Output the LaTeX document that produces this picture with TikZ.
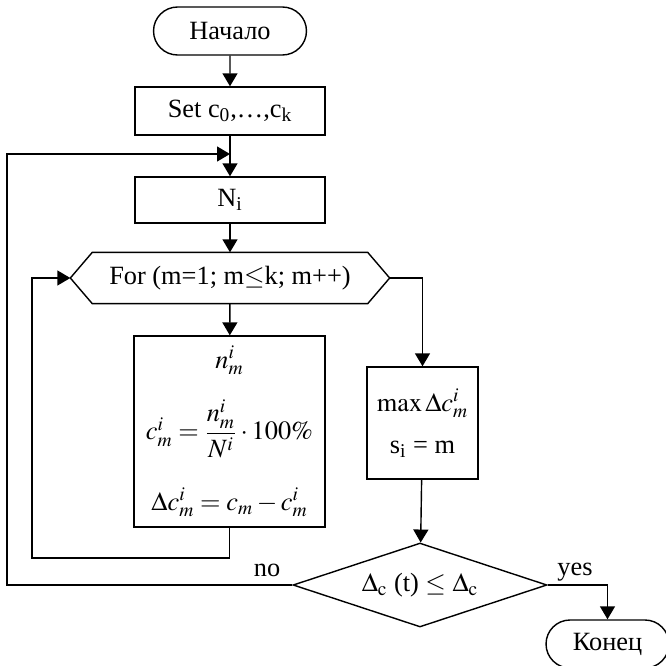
\documentclass[tikz,border=0pt]{standalone}
\usepackage{mathptmx}
\usepackage{amsmath}
\usepackage[no-math]{fontspec}
\setmainfont{Liberation Serif}
\usetikzlibrary{arrows.meta, calc, shapes.misc, shapes.geometric}

\begin{document}
\begin{tikzpicture}[x=0.02cm, y=-0.02cm, >={Triangle[length=0.26cm, width=0.3cm]}, line width=0.8pt,
  font=\fontsize{15}{18}\selectfont,
  term/.style={draw, rounded rectangle, minimum height=0.96cm, inner sep=2pt},
  box/.style={draw, rectangle, inner sep=2pt},
  cond/.style={draw, diamond, aspect=3, inner sep=0pt}]
\useasboundingbox (0,0) rectangle (666,666);
\clip (0,0) rectangle (666,666);
% main column
\node[term, minimum width=3.2cm] (start) at (230,31) {Начало};
\node[box, minimum width=3.8cm, minimum height=0.96cm] (set) at (230,111) {Set c\textsubscript{0},\ldots,c\textsubscript{k}};
\node[box, minimum width=3.8cm, minimum height=0.92cm] (ni) at (230,200) {N\textsubscript{i}};
% loop header as hexagon
\node[minimum width=6.36cm, minimum height=1cm, inner sep=0pt] (for) at (230,278) {For (m=1; m$\leq$k; m++)};
\draw (for.west) -- ($(for.north west)+(22,0)$) -- ($(for.north east)+(-22,0)$) -- (for.east)
  -- ($(for.south east)+(-22,0)$) -- ($(for.south west)+(22,0)$) -- cycle;
\node[box, minimum width=3.82cm, minimum height=3.82cm, align=center] (calc) at (229.5,431.5)
  {$n_m^i$\\[13pt] $c_m^i=\dfrac{n_m^i}{N^i}\cdot 100\%$\\[16pt] $\Delta c_m^i=c_m-c_m^i$};
\node[box, minimum width=2.22cm, minimum height=2.24cm, align=center] (max) at (422.5,423)
  {$\max\Delta c_m^i$\\[6pt] s\textsubscript{i} = m};
\node[cond, minimum width=5.08cm, minimum height=1.68cm] (dec) at (420,585)
  {$\Delta_{\mathrm{c}}$ (t) $\leq$ $\Delta_{\mathrm{c}}$};
\node[term, minimum width=2.6cm] (end) at (607.5,644) {Конец};
% helper points
\coordinate (join) at (230,154);
\coordinate (noend) at (7,585);
\coordinate (loopend) at (32,558);
% arrows
\draw[->] (start) -- (set);
\draw[->] (set) -- (ni);
\draw[->] (ni) -- (for);
\draw[->] (for) -- (calc);
\draw[->] (calc.south) |- (loopend) |- (for.west);
\draw[->] (for.east) -| (max.north);
\draw[->] (max) -- (dec);
\draw[->] (dec.west) -- (noend) |- (join);
\draw[->] (dec.east) -| (end.north);
\node at (267,570) {no};
\node at (575,572) {yes};
\end{tikzpicture}
\end{document}
